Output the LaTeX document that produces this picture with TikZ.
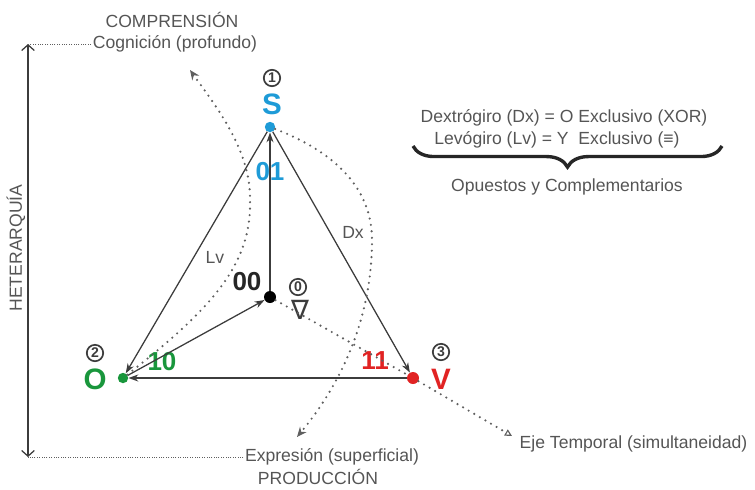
\documentclass[tikz,border=0pt]{standalone}
\usepackage{fontspec}
\setmainfont{Liberation Sans}
\newfontfamily\symfont{DejaVu Sans}
\definecolor{txtgray}{RGB}{85,85,85}
\definecolor{linegray}{RGB}{60,60,60}
\definecolor{dotgray}{RGB}{95,95,95}
\definecolor{sblue}{RGB}{30,155,215}
\definecolor{ogreen}{RGB}{25,150,60}
\definecolor{vred}{RGB}{225,35,35}
\usetikzlibrary{arrows.meta,positioning,decorations.pathreplacing,calc}

\begin{document}
\begin{tikzpicture}[
    x=0.025cm, y=-0.025cm,
    >={Stealth[length=7pt,width=5pt]},
    lbl/.style={text=txtgray, font=\fontsize{12.5}{14}\selectfont, inner sep=1pt},
    bigletter/.style={font=\fontsize{21}{21}\selectfont\bfseries, inner sep=0pt},
    code/.style={font=\fontsize{18.5}{18.5}\selectfont\bfseries, inner sep=0pt},
    vertex/.style={circle, inner sep=0pt, minimum size=0.26cm},
    numcirc/.style={circle, draw=linegray, line width=1.2pt, inner sep=0pt,
                    minimum size=0.41cm, text=linegray, font=\fontsize{10}{10}\selectfont\bfseries},
    edge/.style={->, draw=linegray, line width=0.9pt},
    dotline/.style={draw=dotgray, line width=1.7pt, line cap=round, dash pattern=on 0pt off 4.6pt},
    hdot/.style={draw=dotgray, line width=0.7pt, densely dotted},
    axis/.style={draw=linegray, line width=0.9pt,
                 {Straight Barb[length=4pt,width=9pt]}-{Straight Barb[length=4pt,width=9pt]}}
  ]
    \useasboundingbox (0,0) rectangle (755,489);

    % Vertices
    \node[vertex, fill=sblue] (S) at (270,127) {};
    \node[vertex, fill=ogreen] (O) at (123,378) {};
    \node[vertex, fill=vred, minimum size=0.3cm] (V) at (413,378) {};
    \node[vertex, fill=black, minimum size=0.3cm] (C) at (270,297) {};

    % Letters, codes and numbers
    \node[bigletter, text=sblue] (Slbl) at (272,104) {S};
    \node[bigletter, text=ogreen] (Olbl) at (95,379) {O};
    \node[bigletter, text=vred] (Vlbl) at (441,379) {V};
    \node[code, text=sblue] (c01) at (270,172) {01};
    \node[code, text=black!85] (c00) at (247,282) {00};
    \node[code, text=ogreen] (c10) at (162,362) {10};
    \node[code, text=vred] (c11) at (375,361) {11};
    \node[numcirc] (n1) at (272,78) {1};
    \node[numcirc] (n2) at (95,353) {2};
    \node[numcirc] (n3) at (441,352) {3};
    \node[numcirc] (n0) at (298,287) {0};
    \node[text=linegray, inner sep=0pt, font=\symfont\fontsize{19}{19}\selectfont] (nabla) at (300,310) {∇};

    % Triangle edges
    \draw[edge] (S) -- (O);
    \draw[edge] (S) -- (V);
    \draw[edge] (V) -- (O);
    \draw[edge] (C) -- (S);
    \draw[edge] (O) -- (C);
    \node[lbl] (lv) at (215,257) {Lv};
    \node[lbl] (dx) at (353,232) {Dx};

    % Dotted curves
    \coordinate (midL) at (250,200);
    \coordinate (cogtip) at (190,70);
    \draw[dotline, -{Stealth[length=7pt,width=6pt]}] (O) .. controls (210,310) and (252,265) .. (midL)
      .. controls (251,150) and (215,105) .. (cogtip);
    \coordinate (midR) at (372,240);
    \coordinate (exptip) at (297,437);
    \draw[dotline, -{Stealth[length=7pt,width=6pt]}] (S) .. controls (330,150) and (372,185) .. (midR)
      .. controls (372,320) and (340,385) .. (exptip);
    \coordinate (ejetip) at (512,436);
    \draw[dotline, -{Triangle[open,length=5pt,width=5pt,line width=0.8pt]}] (C) -- (V) -- (ejetip);

    % Axis labels
    \node[lbl] (compr) at (172,20) {COMPRENSIÓN};
    \node[lbl] (cog) at (175,44) {Cognición (profundo)};
    \node[lbl] (expr) at (332,457) {Expresión (superficial)};
    \node[lbl] (prod) at (318,477) {PRODUCCIÓN};
    \node[lbl, anchor=west] (eje) at (518,444) {Eje Temporal (simultaneidad)};
    \node[lbl, rotate=90] (heter) at (16,248) {HETERARQUÍA};

    % Vertical axis
    \coordinate (axtop) at (28,44);
    \coordinate (axbot) at (28,457);
    \draw[axis] (axbot) -- (axtop);
    \draw[hdot] (cog.west) -- (axtop);
    \draw[hdot] (expr.west) -- (axbot);

    % Legend
    \node[lbl] (dex) at (564,118) {Dextrógiro (Dx) = O Exclusivo (XOR)};
    \node[lbl] (lev) at (557,140) {Levógiro (Lv) = Y\ \ Exclusivo (≡)};
    \coordinate (brL) at (413,146);
    \coordinate (brR) at (722,146);
    \draw[line width=2.4pt, draw=black!85, decorate,
          decoration={brace, mirror, amplitude=15pt}] (brL) -- (brR);
    \node[lbl] (opu) at (567,187) {Opuestos y Complementarios};
\end{tikzpicture}
\end{document}
